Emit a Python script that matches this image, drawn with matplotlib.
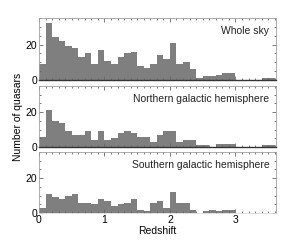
import numpy as np
import matplotlib
matplotlib.use("Agg")
import matplotlib.pyplot as plt
from matplotlib.ticker import MultipleLocator

bin_edges = np.round(np.arange(0, 3.61, 0.1), 2)
north = [6, 21, 15, 14, 9, 7, 7, 9, 4, 9, 4, 5, 8, 9, 8, 6, 6, 3, 7, 9,
         9, 3, 4, 4, 1, 1, 0, 2, 2, 2, 0, 0, 0, 0, 1, 1]
south = [3, 11, 9, 8, 10, 11, 6, 6, 5, 8, 7, 4, 5, 6, 8, 2, 1, 6, 7, 3,
         12, 6, 6, 2, 0, 1, 2, 1, 2, 2, 0, 0, 0, 0, 0, 0]
whole = list(np.array(north) + np.array(south))
titles = ["Whole sky", "Northern galactic hemisphere", "Southern galactic hemisphere"]
series = [whole, north, south]

plt.rcParams['font.family'] = ['Liberation Sans', 'DejaVu Sans']
fig = plt.figure(figsize=(3.05, 2.41), dpi=100)
W, H = 305, 241
left, right = 39 / W, 276 / W
panels = [(18, 80), (86, 147), (152, 213)]
spine_col = '#a0a0a0'
axes = []
for i, ((t, b), vals, title) in enumerate(zip(panels, series, titles)):
    ax = fig.add_axes([left, 1 - b / H, right - left, (b - t) / H])
    ax.stairs(vals, bin_edges, fill=True, color='#7f7f7f', linewidth=0)
    ax.set_xlim(0, 3.62)
    ax.set_ylim(0, 35)
    ax.xaxis.set_major_locator(MultipleLocator(1))
    ax.xaxis.set_minor_locator(MultipleLocator(0.1))
    ax.yaxis.set_major_locator(MultipleLocator(20))
    ax.yaxis.set_minor_locator(MultipleLocator(5))
    ax.tick_params(which='both', direction='in', top=True, right=True,
                   labelsize=7.5, pad=1.5, color='#666666', width=0.6)
    ax.tick_params(which='major', length=3)
    ax.tick_params(which='minor', length=1.5)
    for s in ax.spines.values():
        s.set_color(spine_col)
        s.set_linewidth(0.6)
    if i < 2:
        ax.spines['bottom'].set_color('#333333')
        ax.spines['bottom'].set_linewidth(1.0)
        ax.tick_params(labelbottom=False)
    else:
        ax.spines['bottom'].set_color('#dddddd')
    ax.text(0.972, 0.79, title, transform=ax.transAxes, ha='right', va='center',
            fontsize=7.5, color='#222222')
    axes.append(ax)

axes[1].set_ylabel("Number of quasars", fontsize=7.5, labelpad=2)
axes[2].set_xlabel("Redshift", fontsize=7.5, labelpad=1)

fig.savefig("out.png", dpi=100)
